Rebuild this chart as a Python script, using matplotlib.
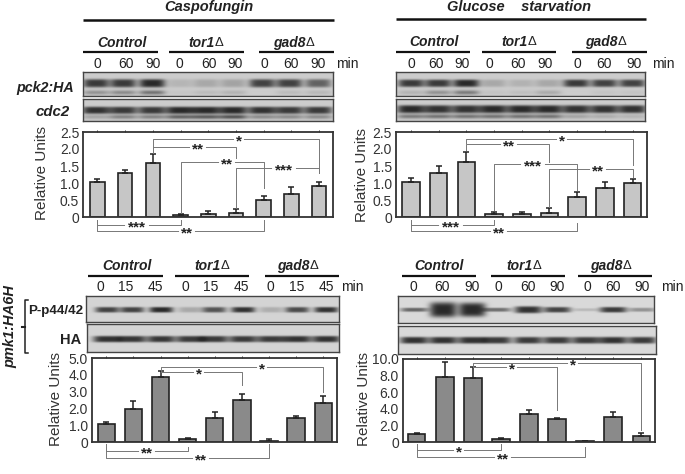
import matplotlib
matplotlib.use("Agg")
import matplotlib.pyplot as plt
import numpy as np

plt.rcParams["font.family"] = ["Liberation Sans", "DejaVu Sans"]

W, H = 685, 474

# bar values and the tops of their error bars
casp_vals = [1.03, 1.28, 1.60, 0.06, 0.10, 0.12, 0.50, 0.67, 0.90]
casp_tops = [1.12, 1.37, 1.85, 0.09, 0.17, 0.23, 0.63, 0.87, 1.03]
gluc_vals = [1.03, 1.30, 1.63, 0.09, 0.08, 0.13, 0.60, 0.86, 1.01]
gluc_tops = [1.16, 1.50, 1.91, 0.16, 0.15, 0.26, 0.73, 1.03, 1.13]
pmk_casp_vals = [1.10, 1.95, 3.87, 0.17, 1.42, 2.50, 0.07, 1.45, 2.30]
pmk_casp_tops = [1.20, 2.42, 4.25, 0.25, 1.80, 2.83, 0.15, 1.55, 2.75]
pmk_gluc_vals = [1.00, 7.85, 7.70, 0.40, 3.40, 2.72, 0.10, 3.00, 0.75]
pmk_gluc_tops = [1.10, 9.60, 9.00, 0.50, 3.85, 2.95, 0.12, 3.60, 1.05]

ticks_25 = [0, 0.5, 1.0, 1.5, 2.0, 2.5]
ticks_5 = [0, 1.0, 2.0, 3.0, 4.0, 5.0]
ticks_10 = [0, 2.0, 4.0, 6.0, 8.0, 10.0]
labels_25 = ["0", "0.5", "1.0", "1.5", "2.0", "2.5"]
labels_5 = ["0", "1.0", "2.0", "3.0", "4.0", "5.0"]
labels_10 = ["0", "2.0", "4.0", "6.0", "8.0", "10.0"]

times_a = ["0", "60", "90"] * 3
times_c = ["0", "15", "45"] * 3

# band strength per lane on the blots, main band and lower band
pck2_casp_main = [0.90, 0.90, 1.00, 0.14, 0.22, 0.25, 0.85, 0.85, 0.65]
pck2_casp_low = [0.35, 0.40, 0.55, 0.04, 0.10, 0.15, 0.00, 0.10, 0.12]
cdc2_casp_main = [0.95, 0.90, 0.90, 1.00, 1.00, 1.00, 0.95, 0.90, 0.90]
cdc2_casp_low = [0.25, 0.45, 0.45, 0.65, 0.70, 0.75, 0.40, 0.40, 0.40]
pck2_gluc_main = [0.90, 0.90, 1.00, 0.22, 0.16, 0.22, 0.90, 0.85, 0.85]
pck2_gluc_low = [0.15, 0.35, 0.50, 0.05, 0.08, 0.20, 0.00, 0.05, 0.05]
cdc2_gluc_main = [1.00, 0.95, 0.95, 1.00, 1.00, 1.00, 0.95, 0.95, 0.95]
cdc2_gluc_low = [0.50, 0.55, 0.55, 0.55, 0.55, 0.55, 0.25, 0.20, 0.15]
pp44_casp_main = [0.85, 0.85, 1.00, 0.25, 0.75, 0.95, 0.22, 0.80, 0.95]
ha_casp_main = [0.95, 0.92, 0.92, 0.90, 0.90, 0.90, 0.90, 0.95, 0.95]
pp44_gluc_main = [0.65, 1.00, 1.00, 0.60, 0.95, 0.85, 0.18, 0.90, 0.40]
ha_gluc_main = [0.95, 0.95, 0.95, 0.90, 0.90, 0.90, 0.90, 0.95, 0.90]
pp44_gluc_thick = [2.0, 7.5, 7.0, 2.0, 3.5, 2.8, 1.5, 2.8, 2.0]

fig = plt.figure(figsize=(W / 100, H / 100), dpi=100)


def px_axes(l, t, r, b):
    return fig.add_axes([l / W, 1 - b / H, (r - l) / W, (b - t) / H])


def blot(box, lanes, main, low=None, my=0.5, ly=0.85, hw=12.0, thick=3.0, bg=0.80):
    # soft bands on a grey strip, darkness follows the per lane strength
    l, t, r, b = box
    ax = px_axes(l, t, r, b)
    ny, nx = int((b - t) * 2), int((r - l) * 2)
    yy, xx = np.mgrid[0:ny, 0:nx]
    xx = l + xx / 2.0
    yy = t + yy / 2.0
    dark = np.zeros((ny, nx))
    for k, x in enumerate(lanes):
        th = thick[k] if np.ndim(thick) else thick
        yc = t + my * (b - t)
        dark += main[k] * np.exp(-(((xx - x) / hw) ** 4)) * np.exp(-(((yy - yc) / th) ** 4))
        if low is not None:
            yc = t + ly * (b - t)
            dark += low[k] * np.exp(-(((xx - x) / hw) ** 4)) * np.exp(-(((yy - yc) / 2.2) ** 2))
    dark = np.clip(dark, 0, 1)
    img = bg * (1 - dark) + 0.16 * dark
    ax.imshow(img, cmap="gray", vmin=0, vmax=1, aspect="auto", interpolation="bilinear")
    ax.set_xticks([])
    ax.set_yticks([])
    for s in ax.spines.values():
        s.set_color("#444444")
        s.set_linewidth(1.0)
    return ax


def panel(box, vals, tops, yticks, ylabels, color, width, xlim):
    l, t, r, b = box
    ax = px_axes(l, t, r, b)
    x = np.arange(len(vals))
    ax.bar(x, vals, width=width, color=color, edgecolor="#222222", linewidth=1.2)
    up = np.array(tops) - np.array(vals)
    ax.errorbar(x, vals, yerr=[np.zeros(len(vals)), up], fmt="none", ecolor="#222222",
                elinewidth=1.1, capsize=2.5, capthick=1.1)
    ax.set_xlim(*xlim)
    ax.set_ylim(yticks[0], yticks[-1])
    ax.set_yticks(yticks)
    ax.set_yticklabels(ylabels, fontsize=10, color="#333333")
    ax.set_xticks(x)
    ax.set_xticklabels([])
    ax.tick_params(axis="x", bottom=False, top=True, length=1.5, width=0.7, color="#333333")
    ax.tick_params(axis="y", length=0, pad=3)
    for s in ax.spines.values():
        s.set_color("#333333")
        s.set_linewidth(1.3)
    return ax


# panel boxes in pixels of the picture
box_a = (83.3, 132, 333, 217)
box_b = (396, 132, 647, 217)
box_c = (92, 358, 337, 442)
box_d = (403, 359, 655, 442)
lim_a = (-0.51, 8.5)
lim_b = (-0.54, 8.52)
lim_c = (-0.53, 8.51)
lim_d = (-0.49, 8.49)

lanes_a = [96, 123, 152, 180, 206, 233, 262, 289, 318]
lanes_b = [411, 438, 466, 493, 521, 548, 576, 604, 632]
lanes_c = [107, 132, 161, 190, 214, 243, 271, 297, 326]
lanes_d = [414, 443, 472, 497, 528, 557, 586, 613, 642]

blot((83, 72, 333, 96), lanes_a, pck2_casp_main, pck2_casp_low, my=0.48, hw=13, thick=4.0)
blot((83, 99, 333, 121), lanes_a, cdc2_casp_main, cdc2_casp_low, my=0.50, ly=0.80, hw=14, thick=3.6)
blot((396, 72, 645, 96), lanes_b, pck2_gluc_main, pck2_gluc_low, my=0.48, ly=0.85, hw=13, thick=3.6)
blot((396, 99, 645, 121), lanes_b, cdc2_gluc_main, cdc2_gluc_low, my=0.45, ly=0.78, hw=14, thick=4.0)
blot((86, 296, 339, 322), lanes_c, pp44_casp_main, my=0.52, hw=12, thick=2.8, bg=0.83)
blot((87, 324, 339, 352), lanes_c, ha_casp_main, my=0.53, hw=14, thick=3.2, bg=0.83)
blot((398, 296, 654, 323), lanes_d, pp44_gluc_main, my=0.50, hw=13.5, thick=pp44_gluc_thick, bg=0.85)
blot((398, 326, 656, 354), lanes_d, ha_gluc_main, my=0.50, hw=14, thick=3.4, bg=0.85)

panels = [
    (box_a, lim_a, panel(box_a, casp_vals, casp_tops, ticks_25, labels_25, "#c6c6c6", 0.53, lim_a)),
    (box_b, lim_b, panel(box_b, gluc_vals, gluc_tops, ticks_25, labels_25, "#c6c6c6", 0.63, lim_b)),
    (box_c, lim_c, panel(box_c, pmk_casp_vals, pmk_casp_tops, ticks_5, labels_5, "#8a8a8a", 0.64, lim_c)),
    (box_d, lim_d, panel(box_d, pmk_gluc_vals, pmk_gluc_tops, ticks_10, labels_10, "#8a8a8a", 0.62, lim_d)),
]

# overlay in picture pixels for headings and brackets
ov = fig.add_axes([0, 0, 1, 1], zorder=10)
ov.set_xlim(0, W)
ov.set_ylim(H, 0)
ov.axis("off")
ov.patch.set_alpha(0)


def head(x, y, s, size=10):
    ov.text(x, y, s, ha="center", va="center", fontsize=size, fontweight="bold",
            fontstyle="italic", color="#222222")


def rule(x0, x1, y, lw=1.8):
    ov.plot([x0, x1], [y, y], color="#111111", lw=lw, solid_capstyle="butt")


def strain(x, y, name, split):
    ov.text(x + split, y, name, ha="right", va="center", fontsize=10, fontweight="bold",
            fontstyle="italic", color="#222222")
    ov.text(x + split, y, "\u0394", ha="left", va="center", fontsize=9.5, color="#222222")


def group_heads(y_text, y_rule, rules, xs):
    for x0, x1 in rules:
        rule(x0, x1, y_rule, 1.6)
    head(xs[0], y_text, "Control")
    strain(xs[1], y_text, "tor1", 7.5)
    strain(xs[2], y_text, "gad8", 10.5)


def time_labels(xs, y, labels, min_x):
    for x, s in zip(xs, labels):
        ov.text(x, y, s, ha="center", va="center", fontsize=10, color="#222222")
    ov.text(min_x, y, "min", ha="center", va="center", fontsize=10, color="#222222")


def bar_x(idx, i):
    box, lim, _ = panels[idx]
    return box[0] + (i - lim[0]) / (lim[1] - lim[0]) * (box[2] - box[0])


def bracket(idx, i, j, y, yi, yj, stars, star_x):
    x0, x1 = bar_x(idx, i), bar_x(idx, j)
    ov.plot([x0, x0, x1, x1], [yi, y, y, yj], color="#777777", lw=0.7)
    half = 3.2 * len(stars) + 1
    ov.plot([star_x - half, star_x + half], [y, y], color="white", lw=1.4)
    ov.text(star_x, y + 2.5, stars, ha="center", va="center", fontsize=11, fontweight="bold",
            color="#222222")


head(209, 7, "Caspofungin", 10.5)
rule(83, 334, 20)
head(519, 7, "Glucose    starvation", 10.5)
rule(396, 646, 19)

group_heads(43, 52, [(83, 158), (169, 244), (259, 334)], [122, 207, 295])
group_heads(42, 52, [(396, 470), (482, 556), (572, 647)], [434, 520, 607])
group_heads(266, 276, [(88, 163), (175, 249), (265, 339)], [127, 213, 299])
group_heads(266, 276, [(402, 476), (491, 565), (578, 652)], [439, 525, 612])

time_labels([97, 126, 153, 179, 209, 235, 264, 291, 318], 64, times_a, 347)
time_labels([411, 436, 462, 489, 518, 545, 577, 604, 634], 64, times_a, 663)
time_labels([100, 126, 155, 185, 211, 241, 270, 297, 326], 287, times_c, 352)
time_labels([413, 442, 472, 498, 528, 557, 587, 613, 642], 287, times_a, 672)

for x, y in [(42, 173), (362, 175), (56, 399), (364, 399)]:
    ov.text(x, y, "Relative Units", rotation=90, ha="center", va="center", fontsize=11, color="#333333")

ov.text(74, 88, "pck2:HA", ha="right", va="center", fontsize=10.3, fontweight="bold", fontstyle="italic", color="#222222")
ov.text(70, 112, "cdc2", ha="right", va="center", fontsize=10.8, fontweight="bold", fontstyle="italic", color="#222222")
ov.text(56, 311, "P-p44/42", ha="center", va="center", fontsize=9.6, fontweight="bold", color="#222222")
ov.text(71, 340, "HA", ha="center", va="center", fontsize=10.5, fontweight="bold", color="#222222")
ov.text(10, 327, "pmk1:HA6H", rotation=90, ha="center", va="center", fontsize=10.5, fontweight="bold", fontstyle="italic", color="#222222")
ov.plot([28, 25, 25, 28], [300, 300, 353, 353], color="#222222", lw=1.1)
ov.plot([22, 25], [327, 327], color="#222222", lw=1.5)

# significance brackets, bar index on x and picture pixels on y
bracket(0, 2, 8, 139, 148, 173, "*", 239)
bracket(0, 2, 5, 147, 153, 158, "**", 198)
bracket(0, 3, 6, 162, 213, 188, "**", 227)
bracket(0, 5, 8, 168, 208, 173, "***", 284)
bracket(0, 0, 3, 225, 220, 220, "***", 137)
bracket(0, 0, 6, 231, 220, 220, "**", 187)

bracket(1, 2, 8, 139, 143, 165, "*", 562)
bracket(1, 2, 5, 144, 150, 162, "**", 509)
bracket(1, 3, 6, 164, 210, 190, "***", 533)
bracket(1, 5, 8, 169, 207, 177, "**", 598)
bracket(1, 0, 3, 225, 220, 220, "***", 451)
bracket(1, 0, 6, 231, 223, 223, "**", 499)

bracket(2, 2, 8, 367, 372, 392, "*", 262)
bracket(2, 2, 5, 372, 372, 385, "*", 199)
bracket(2, 0, 3, 451, 447, 447, "**", 147)
bracket(2, 0, 6, 458, 444, 444, "**", 201)

bracket(3, 2, 8, 363, 367, 430, "*", 573)
bracket(3, 2, 5, 367, 367, 410, "*", 512)
bracket(3, 0, 3, 450, 444, 444, "*", 459)
bracket(3, 0, 6, 457, 447, 447, "**", 503)

fig.savefig("out.png", dpi=100)
